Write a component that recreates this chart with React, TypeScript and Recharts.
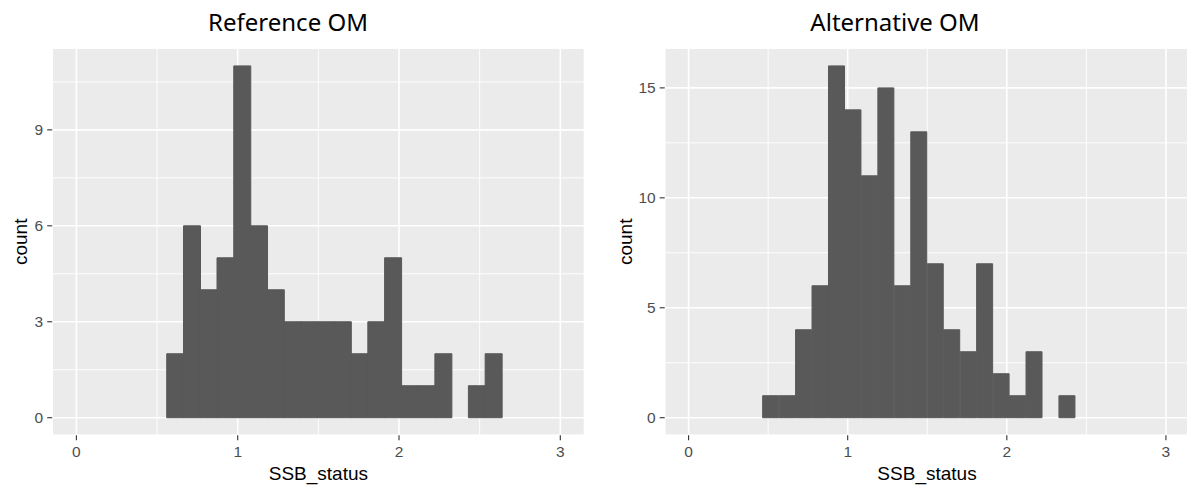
import React from 'react';
import { BarChart, Bar, XAxis, YAxis, CartesianGrid } from 'recharts';

// Histogram bin midpoints (SSB_status) and counts
const refBinMids = [0.61195, 0.71585, 0.81975, 0.92365, 1.02755, 1.13145, 1.23535, 1.33925, 1.44315, 1.54705, 1.65095, 1.75485, 1.85875, 1.96265, 2.06655, 2.17045, 2.27435, 2.37825, 2.48215, 2.58605];
const refCounts = [2, 6, 4, 5, 11, 6, 4, 3, 3, 3, 3, 2, 3, 5, 1, 1, 2, 0, 1, 2];

const altBinMids = [0.51725, 0.6207, 0.72415, 0.8276, 0.93105, 1.0345, 1.13795, 1.2414, 1.34485, 1.4483, 1.55175, 1.6552, 1.75865, 1.8621, 1.96555, 2.069, 2.17245, 2.2759, 2.37935];
const altCounts = [1, 1, 4, 6, 16, 14, 11, 15, 6, 13, 7, 4, 3, 7, 2, 1, 3, 0, 1];

const xTicks = [0, 1, 2, 3];
const xMinorTicks = [0.5, 1.5, 2.5];
const refYTicks = [0, 3, 6, 9];
const refYMinorTicks = [1.5, 4.5, 7.5, 10.5];
const altYTicks = [0, 5, 10, 15];
const altYMinorTicks = [2.5, 7.5, 12.5];

const xDomain: [number, number] = [-0.15, 3.15];
const refYDomain: [number, number] = [-0.55, 11.55];
const altYDomain: [number, number] = [-0.8, 16.8];

const refData = refBinMids.map((x, i) => ({ x, count: refCounts[i] }));
const altData = altBinMids.map((x, i) => ({ x, count: altCounts[i] }));

const tickFont = '"Liberation Sans", Arial, sans-serif';

interface PanelProps {
  data: { x: number; count: number }[];
  width: number;
  yAxisWidth: number;
  marginRight: number;
  yDomain: [number, number];
  yTicks: number[];
  yMinorTicks: number[];
}

function Panel({ data, width, yAxisWidth, marginRight, yDomain, yTicks, yMinorTicks }: PanelProps) {
  return (
    <BarChart
      width={width}
      height={485}
      data={data}
      margin={{ top: 48.3, right: marginRight, bottom: 0, left: 0 }}
      barCategoryGap={0}
      barGap={0}
    >
      <XAxis xAxisId="minor" dataKey="x" type="number" domain={xDomain} ticks={xMinorTicks} allowDataOverflow hide />
      <YAxis yAxisId="minor" type="number" domain={yDomain} ticks={yMinorTicks} allowDataOverflow hide />
      <CartesianGrid xAxisId="minor" yAxisId="minor" fill="#EBEBEB" fillOpacity={1} stroke="#FFFFFF" strokeWidth={0.9} />
      <CartesianGrid stroke="#FFFFFF" strokeWidth={1.6} />
      <XAxis
        dataKey="x"
        type="number"
        domain={xDomain}
        ticks={xTicks}
        allowDataOverflow
        interval={0}
        height={49.7}
        tickSize={5}
        tickMargin={6}
        axisLine={false}
        tickLine={{ stroke: '#333333', strokeWidth: 1.1 }}
        tick={{ fill: '#4D4D4D', fontSize: 15.5, fontFamily: tickFont }}
      />
      <YAxis
        type="number"
        domain={yDomain}
        ticks={yTicks}
        allowDataOverflow
        interval={0}
        width={yAxisWidth}
        tickSize={5}
        tickMargin={4}
        axisLine={false}
        tickLine={{ stroke: '#333333', strokeWidth: 1.1 }}
        tick={{ fill: '#4D4D4D', fontSize: 15.5, fontFamily: tickFont }}
      />
      <Bar dataKey="count" fill="#595959" stroke="#595959" strokeWidth={1} isAnimationActive={false} />
    </BarChart>
  );
}

export default function App() {
  const titleStyle = { fontFamily: '"Noto Sans", "Open Sans", sans-serif', fontSize: 24, fill: '#000000' };
  const axisTitleStyle = { fontFamily: tickFont, fontSize: 19, fill: '#000000' };
  return (
    <div style={{ position: 'absolute', left: 0, top: 0, width: 1187, height: 485, overflow: 'hidden', background: '#FFFFFF' }}>
      <div style={{ position: 'absolute', left: 0, top: 0 }}>
        <Panel data={refData} width={590} yAxisWidth={52.2} marginRight={5.5} yDomain={refYDomain} yTicks={refYTicks} yMinorTicks={refYMinorTicks} />
      </div>
      <div style={{ position: 'absolute', left: 593, top: 0 }}>
        <Panel data={altData} width={597} yAxisWidth={71.7} marginRight={0.2} yDomain={altYDomain} yTicks={altYTicks} yMinorTicks={altYMinorTicks} />
      </div>
      <svg width={1187} height={485} style={{ position: 'absolute', left: 0, top: 0, pointerEvents: 'none' }}>
        <text x={288} y={31} textAnchor="middle" style={titleStyle}>Reference OM</text>
        <text x={895} y={31} textAnchor="middle" style={titleStyle}>Alternative OM</text>
        <text x={318.4} y={480} textAnchor="middle" style={axisTitleStyle}>SSB_status</text>
        <text x={927} y={480} textAnchor="middle" style={axisTitleStyle}>SSB_status</text>
        <text x={27.5} y={241.8} textAnchor="middle" transform="rotate(-90 27.5 241.8)" style={axisTitleStyle}>count</text>
        <text x={632} y={241.8} textAnchor="middle" transform="rotate(-90 632 241.8)" style={axisTitleStyle}>count</text>
      </svg>
    </div>
  );
}
